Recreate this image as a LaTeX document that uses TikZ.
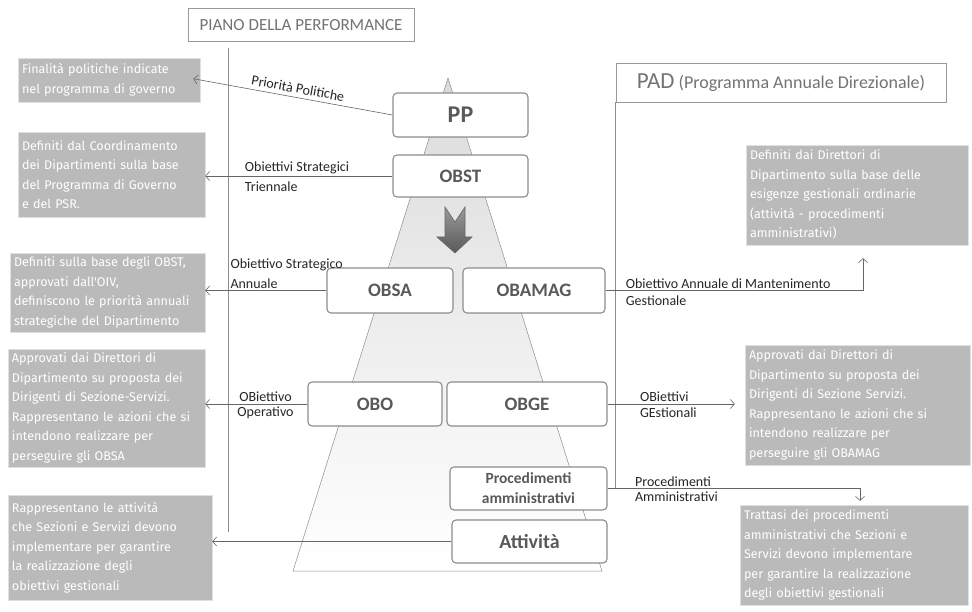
\documentclass[tikz,border=0pt]{standalone}
\usepackage{fontspec}
\setmainfont{Carlito}
\newfontfamily\notefont{Fira Sans}
\usetikzlibrary{arrows.meta}

\tikzset{
    stage/.style={draw=black!45, line width=1.1pt, rounded corners=4pt, fill=white,
        text=black!65, font=\bfseries\fontsize{19}{21}\selectfont, inner sep=0pt},
    note/.style={fill=black!27, draw=black!12, text=white, align=left, inner sep=4pt,
        font=\notefont\fontsize{12.6}{19.5}\selectfont},
    heading/.style={draw=black!40, line width=0.6pt, text=black!55, inner sep=0pt},
    guide/.style={draw=black!45, line width=0.5pt},
    conn/.style={draw=black!60, line width=0.6pt, -{Straight Barb[length=4pt, width=9pt]}},
    lbl/.style={font=\fontsize{14}{16}\selectfont, text=black!85, inner sep=2pt},
}

\begin{document}
\begin{tikzpicture}[x=1pt, y=-1pt]
    \useasboundingbox[fill=white] (0,0) rectangle (972,612);

    % pyramid in the background
    \path[top color=black!14, bottom color=white, draw=black!45, line width=0.5pt]
        (448,78) -- (293,571) -- (602,571) -- cycle;

    % headings and guide lines
    \node[heading, minimum width=226pt, minimum height=33pt, font=\fontsize{17}{19}\selectfont] (piano) at (301,25) {PIANO DELLA PERFORMANCE};
    \node[heading, minimum width=330pt, minimum height=39pt, font=\fontsize{18}{20}\selectfont] (pad) at (781,82.5) {{\fontsize{23}{25}\selectfont PAD} (Programma Annuale Direzionale)};
    \coordinate (gtop) at (228,48);
    \coordinate (gbot) at (228,532);
    \draw[guide] (gtop) -- (gbot);

    % central boxes
    \node[stage, minimum width=135pt, minimum height=44pt, font=\bfseries\fontsize{24}{26}\selectfont] (pp) at (460.5,115) {PP};
    \node[stage, minimum width=135pt, minimum height=42pt] (obst) at (460.5,176) {OBST};
    \node[stage, minimum width=126pt, minimum height=45pt] (obsa) at (390,290.5) {OBSA};
    \node[stage, minimum width=142pt, minimum height=45pt] (obamag) at (534,290.5) {OBAMAG};
    \node[stage, minimum width=134pt, minimum height=44pt] (obo) at (375,404) {OBO};
    \node[stage, minimum width=160pt, minimum height=44pt] (obge) at (527,404) {OBGE};
    \node[stage, minimum width=157pt, minimum height=43pt, align=center, font=\bfseries\fontsize{15.5}{20}\selectfont] (proc) at (528.5,488.5) {Procedimenti\\amministrativi};
    \node[stage, minimum width=155pt, minimum height=43pt, font=\bfseries\fontsize{20}{22}\selectfont] (att) at (529.5,541.5) {Attività};

    % block arrow
    \path[top color=black!40, bottom color=black!65, draw=black!60, line width=0.6pt]
        (445,207) -- (455,222) -- (465,207) -- (465,237) -- (472,237) -- (455,253)
        -- (437,237) -- (445,237) -- cycle;

    % notes on the left
    \node[note, text width=174pt, minimum height=44pt] (l1) at (109,80) {Finalità politiche indicate\\nel programma di governo};
    \node[note, text width=179pt, minimum height=85pt] (l2) at (111.5,174.5) {Definiti dal Coordinamento\\dei Dipartimenti sulla base\\del Programma di Governo\\e del PSR.};
    \node[note, text width=187pt, minimum height=79pt] (l3) at (107.5,292.5) {Definiti sulla base degli OBST,\\approvati dall'OIV,\\definiscono le priorità annuali\\strategiche del Dipartimento};
    \node[note, text width=189pt, minimum height=116pt] (l4) at (106.5,408) {Approvati dai Direttori di\\Dipartimento su proposta dei\\Dirigenti di Sezione-Servizi.\\Rappresentano le azioni che si\\intendono realizzare per\\perseguire gli OBSA};
    \node[note, text width=196pt, minimum height=105pt] (l5) at (110,547.5) {Rappresentano le attività\\che Sezioni  e Servizi devono\\implementare per garantire\\la realizzazione degli\\obiettivi gestionali};

    % notes on the right
    \node[note, text width=214pt, minimum height=100pt] (r1) at (857,195) {Definiti dai Direttori di\\Dipartimento sulla base delle\\esigenze gestionali ordinarie\\(attività - procedimenti\\amministrativi)};
    \node[note, text width=217pt, minimum height=120pt] (r2) at (857.5,405) {Approvati dai Direttori di\\Dipartimento su proposta dei\\Dirigenti di Sezione Servizi.\\Rappresentano le azioni che si\\intendono  realizzare per\\perseguire gli OBAMAG};
    \node[note, text width=220pt, minimum height=100pt] (r3) at (854,555) {Trattasi dei procedimenti\\amministrativi che Sezioni e\\Servizi devono implementare\\per garantire la realizzazione\\degli obiettivi gestionali};

    \draw[guide] (pad.south west) -- (pad.south west |- proc.east);

    % connectors to the left
    \draw[conn, shorten >=-7pt] (pp.west) -- (l1.east)
        node[midway, lbl, above, sloped, yshift=2pt] {Priorità Politiche};
    \draw[conn] (obst.west) -- (obst.west -| l2.east)
        node[pos=0.8, lbl, anchor=south west] {Obiettivi Strategici}
        node[pos=0.8, lbl, anchor=north west, yshift=-3pt] {Triennale};
    \draw[conn] (obsa.west) -- (obsa.west -| l3.east)
        node[pos=0.81, lbl, anchor=south west, align=left] {Obiettivo Strategico\\[4pt]Annuale};
    \draw[conn] (obo.west) -- (obo.west -| l4.east)
        node[pos=0.41, lbl, above] {OBiettivo}
        node[pos=0.41, lbl, below, yshift=-1pt] {Operativo};
    \draw[conn] (att.west) -- (att.west -| l5.east);

    % connectors to the right
    \draw[conn, shorten >=13pt] (obamag.east) -| ([xshift=6pt]r1.south)
        node[pos=0.035, lbl, anchor=south west] {Obiettivo Annuale  di Mantenimento}
        node[pos=0.035, lbl, anchor=north west, yshift=-3pt] {Gestionale};
    \draw[conn, shorten >=10pt] (obge.east) -- (obge.east -| r2.west)
        node[pos=0.22, lbl, anchor=south west] {OBiettivi}
        node[pos=0.22, lbl, anchor=north west, yshift=-1pt] {GEstionali};
    \draw[conn, shorten >=4pt] (proc.east) -| ([xshift=6pt]r3.north)
        node[pos=0.05, lbl, anchor=south west] {Procedimenti}
        node[pos=0.05, lbl, anchor=north west, yshift=-1pt] {Amministrativi};
\end{tikzpicture}
\end{document}
